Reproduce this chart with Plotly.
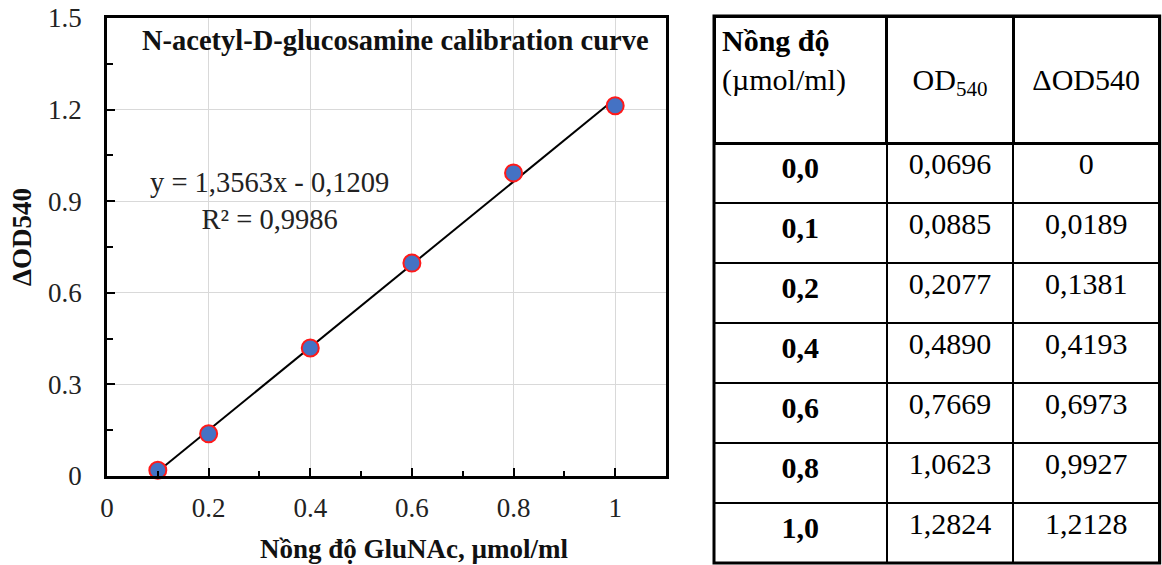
import plotly.graph_objects as go

# Calibration data for N-acetyl-D-glucosamine (GluNAc)
conc = [0.0, 0.1, 0.2, 0.4, 0.6, 0.8, 1.0]          # µmol/ml
od540 = [0.0696, 0.0885, 0.2077, 0.4890, 0.7669, 1.0623, 1.2824]
delta_od = [0.0, 0.0189, 0.1381, 0.4193, 0.6973, 0.9927, 1.2128]

# Linear fit reported for the calibration curve
slope = 1.3563
intercept = -0.1209
r_squared = 0.9986

FONT = "Liberation Serif"
W, H = 1162, 565


def vn(v, nd):
    """Format a number with a comma as decimal separator."""
    if v == 0 and nd == 4:
        return "0"
    return f"{v:.{nd}f}".replace(".", ",")


# points plotted: all standards above the blank
x_pts = conc[1:]
y_pts = delta_od[1:]
x_fit = [x_pts[0], x_pts[-1]]
y_fit = [slope * x + intercept for x in x_fit]

fig = go.Figure()

fig.add_trace(go.Scatter(
    x=x_fit, y=y_fit, mode="lines",
    line=dict(color="black", width=2),
    showlegend=False, hoverinfo="skip",
))
fig.add_trace(go.Scatter(
    x=x_pts, y=y_pts, mode="markers",
    marker=dict(size=17, color="#4472C4", line=dict(color="#FF1A1A", width=2)),
    cliponaxis=False, showlegend=False,
))

# data table beside the chart
table_x = [714 / W, 0.998]
table_y = [0.0, 1 - 16 / H]
header_vals = [
    "<b>Nồng độ</b><br>(µmol/ml)",
    "&nbsp;<br>OD<sub>540</sub>",
    "&nbsp;<br>ΔOD540",
]
cell_vals = [
    [f"<b>{vn(c, 1)}</b>" for c in conc],
    [vn(v, 4) for v in od540],
    [vn(v, 4) for v in delta_od],
]
fig.add_trace(go.Table(
    domain=dict(x=table_x, y=table_y),
    columnwidth=[173, 127, 146],
    header=dict(
        values=header_vals,
        align=["left", "center", "center"],
        font=dict(family=FONT, size=30, color="black"),
        fill_color="white",
        line=dict(color="black", width=3),
        height=127,
    ),
    cells=dict(
        values=cell_vals,
        align="center",
        font=dict(family=FONT, size=30, color="black"),
        fill_color="white",
        line=dict(color="black", width=2),
        height=60,
    ),
))

# heavier outer frame of the table
fig.add_shape(
    type="rect", xref="paper", yref="paper",
    x0=table_x[0], x1=table_x[1], y0=2 / H, y1=table_y[1],
    line=dict(color="black", width=3), fillcolor="rgba(0,0,0,0)",
)

axis_common = dict(
    showline=True, linecolor="black", linewidth=2.5, mirror=True,
    ticks="inside", ticklen=8, tickwidth=2, tickcolor="black",
    showgrid=True, gridcolor="#d9d9d9", gridwidth=1,
    zeroline=False, automargin=False,
    tickfont=dict(family=FONT, size=27, color="#222222"),
)

fig.update_xaxes(
    **axis_common,
    domain=[107 / W, 666 / W],
    range=[0, 1.1], dtick=0.2, tick0=0,
    minor=dict(dtick=0.1, ticks="inside", ticklen=5, tickwidth=2,
               tickcolor="black", showgrid=False),
    ticklabelstandoff=6,
)
fig.update_yaxes(
    **axis_common,
    domain=[1 - 476 / H, 1 - 18 / H],
    range=[0, 1.5], dtick=0.3, tick0=0,
    minor=dict(dtick=0.15, ticks="inside", ticklen=6, tickwidth=2,
               tickcolor="black", showgrid=False),
    ticklabelstandoff=17,
)

fig.add_annotation(
    x=0.567, y=1.425, xref="x", yref="y",
    text="<b>N-acetyl-D-glucosamine calibration curve</b>",
    showarrow=False, font=dict(family=FONT, size=28.5, color="#111111"),
)
fig.add_annotation(
    x=0.32, y=0.90, xref="x", yref="y",
    text=f"y = {vn(slope, 4)}x - {vn(-intercept, 4)}<br>R² = {vn(r_squared, 4)}",
    showarrow=False, align="center",
    font=dict(family=FONT, size=28.5, color="#222222"),
)
fig.add_annotation(
    x=414 / W, y=1 - 549 / H, xref="paper", yref="paper",
    xanchor="center", yanchor="middle",
    text="<b>Nồng độ GluNAc, µmol/ml</b>",
    showarrow=False, font=dict(family=FONT, size=27, color="#111111"),
)
fig.add_annotation(
    x=22 / W, y=1 - 237 / H, xref="paper", yref="paper",
    xanchor="center", yanchor="middle",
    text="<b>ΔOD540</b>", textangle=-90,
    showarrow=False, font=dict(family=FONT, size=27, color="#111111"),
)

fig.update_layout(
    width=W, height=H,
    margin=dict(l=0, r=0, t=0, b=0, autoexpand=False),
    paper_bgcolor="white", plot_bgcolor="white",
    showlegend=False,
)

fig.write_html("out.html")
